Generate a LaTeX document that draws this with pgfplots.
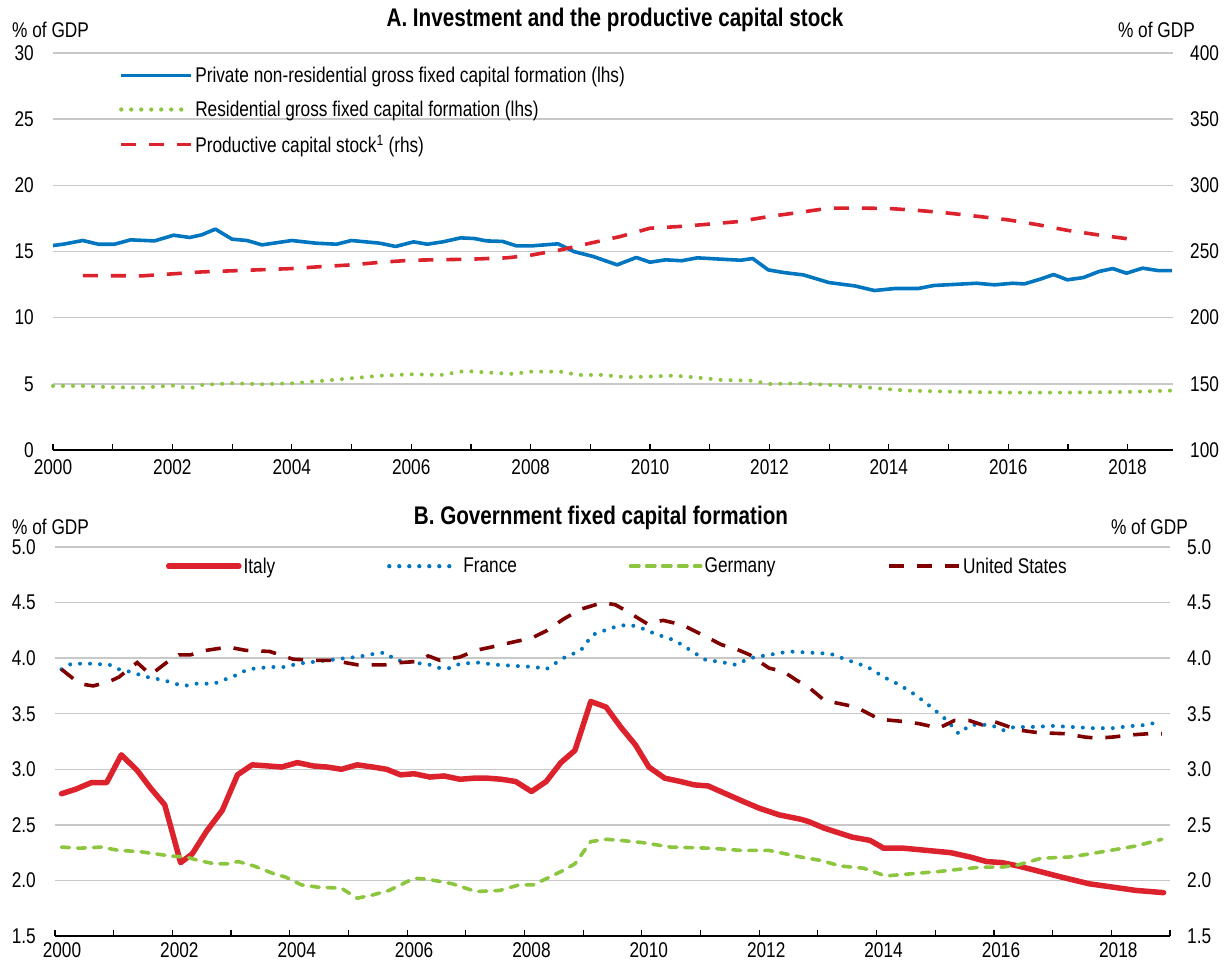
\documentclass[border=0pt]{standalone}
\usepackage{fontspec}
\setmainfont{Liberation Sans}[FakeStretch=0.81]
\usepackage{pgfplots}
\pgfplotsset{compat=1.18}
\definecolor{oblue}{RGB}{0,118,192}
\definecolor{ogreen}{RGB}{140,198,63}
\definecolor{ored}{RGB}{220,35,45}
\definecolor{odred}{RGB}{128,0,0}
\definecolor{ogrid}{RGB}{200,200,200}
\newcommand{\fs}{\fontsize{21.3}{25}\selectfont}
\pgfplotsset{
  common/.style={
    scale only axis, anchor=south west,
    axis x line*=bottom, axis y line*=left,
    y axis line style={draw=none},
    x axis line style={line width=1.4pt, black},
    tick align=inside,
    xtick={2000,2002,...,2018},
    minor xtick={2001,2003,...,2019},
    major tick length=6pt, minor tick length=6pt,
    x tick style={black, line width=1.2pt},
    y tick style={draw=none},
    ymajorgrids, grid style={ogrid, line width=1.5pt},
    tick label style={font=\fs},
    /pgf/number format/assume math mode=true,
    xticklabel style={/pgf/number format/1000 sep={}, inner sep=0pt, yshift=-9pt},
    yticklabel style={inner sep=0pt, xshift=-19pt},
    clip=false,
    legend cell align=left,
    legend style={draw=none, fill=none, font=\fs, inner sep=0pt},
  },
  rightax/.style={
    scale only axis, anchor=south west,
    axis x line=none, axis y line*=right,
    y axis line style={draw=none}, y tick style={draw=none},
    tick label style={font=\fs},
    /pgf/number format/assume math mode=true,
    yticklabel style={inner sep=0pt, xshift=17pt, anchor=west},
  }
}
\begin{document}
\begin{tikzpicture}[x=1pt,y=1pt]
\path[use as bounding box] (0,0) rectangle (1227,962);
% ---------------- Panel A ----------------
\begin{axis}[common,
  at={(53pt,512pt)}, width=1120pt, height=397pt,
  xmin=2000, xmax=2018.76, ymin=0, ymax=30, ytick={0,5,...,30},
  legend style={at={(0.059,0.970)}, anchor=north west, row sep=13pt},
  legend image code/.code={\draw[#1] (0pt,0pt) -- (68pt,0pt); \path (0pt,0pt) -- (70pt,0pt);},
]
\addplot[oblue, line width=3.6pt, line join=round] coordinates {
(2000.0,15.45) (2000.17,15.55) (2000.5,15.83) (2000.76,15.55) (2001.03,15.55)
(2001.3,15.88) (2001.7,15.8) (2002.02,16.23) (2002.29,16.06) (2002.49,16.26)
(2002.72,16.69) (2003.0,15.93) (2003.25,15.83) (2003.5,15.5) (2004.0,15.83)
(2004.4,15.63) (2004.75,15.55) (2005.0,15.83) (2005.47,15.63) (2005.74,15.38)
(2006.04,15.73) (2006.27,15.55) (2006.53,15.73) (2006.83,16.03) (2007.06,15.98)
(2007.26,15.8) (2007.53,15.76) (2007.76,15.43) (2008.03,15.43) (2008.46,15.58)
(2008.72,15.0) (2009.05,14.62) (2009.45,13.99) (2009.77,14.55) (2010.0,14.19)
(2010.26,14.37) (2010.53,14.3) (2010.79,14.52) (2011.19,14.42) (2011.52,14.34)
(2011.72,14.47) (2011.98,13.61) (2012.24,13.41) (2012.57,13.23) (2013.0,12.65)
(2013.43,12.4) (2013.76,12.05) (2014.09,12.2) (2014.49,12.2) (2014.75,12.43)
(2015.47,12.6) (2015.77,12.48) (2016.07,12.6) (2016.27,12.55) (2016.53,12.9)
(2016.76,13.26) (2016.99,12.86) (2017.26,13.03) (2017.52,13.49) (2017.75,13.71)
(2017.98,13.36) (2018.25,13.74) (2018.51,13.56) (2018.74,13.56)};
\addlegendentry{Private non-residential gross fixed capital formation (lhs)}
\addplot[ogreen, line width=4pt, line cap=round, dash pattern=on 0pt off 10pt] coordinates {
(2000,4.84) (2000.5,4.84) (2001,4.74) (2001.5,4.71) (2002,4.87) (2002.3,4.66)
(2002.5,4.92) (2003,5.04) (2003.5,4.97) (2004,5.04) (2004.5,5.22) (2005,5.42)
(2005.5,5.62) (2006,5.72) (2006.5,5.67) (2006.9,5.97) (2007.3,5.85) (2007.7,5.75)
(2008,5.92) (2008.5,5.92) (2008.8,5.67) (2009.2,5.67) (2009.6,5.5) (2010,5.55)
(2010.4,5.62) (2010.8,5.47) (2011.2,5.29) (2011.7,5.24) (2012.0,4.99) (2012.5,5.04)
(2013,4.92) (2013.4,4.84) (2013.8,4.66) (2014.3,4.49) (2015,4.41) (2016,4.34)
(2017,4.34) (2018,4.39) (2018.74,4.49)};
\addlegendentry{Residential gross fixed capital formation (lhs)}
\addlegendimage{ored, line width=3.6pt, dash pattern=on 15pt off 13pt}
\addlegendentry{Productive capital stock\textsuperscript{1} (rhs)}
\end{axis}
\begin{axis}[rightax,
  at={(53pt,512pt)}, width=1120pt, height=397pt,
  xmin=2000, xmax=2018.76, ymin=100, ymax=400, ytick={100,150,...,400},
]
\addplot[ored, line width=3.6pt, dash pattern=on 15pt off 13pt] coordinates {
(2000.5,231.8) (2001.5,231.6) (2002,233.1) (2002.5,234.6) (2003,235.4) (2004,237.1)
(2004.5,238.6) (2005,239.9) (2005.5,241.9) (2006,243.4) (2007,244.2) (2007.6,245.2)
(2008,247.2) (2008.5,251.2) (2009,256.3) (2009.5,261.3) (2010,267.6) (2010.5,268.9)
(2011,270.7) (2011.5,272.7) (2012,276.5) (2012.5,279.5) (2013,282.8) (2013.5,282.8)
(2014,282.5) (2014.5,281) (2015,279) (2015.5,276.5) (2016,273.9) (2016.5,270.2)
(2017,265.9) (2017.5,262.6) (2018,259.6)};
\end{axis}
\node[font=\fontsize{25.5}{30}\selectfont\bfseries] at (615,942) {A. Investment and the productive capital stock};
\node[font=\fs, anchor=west, inner sep=0pt] at (12,932) {\% of GDP};
\node[font=\fs, anchor=east, inner sep=0pt] at (1195,932) {\% of GDP};
% ---------------- Panel B ----------------
\begin{axis}[common,
  at={(55pt,26pt)}, width=1115pt, height=389pt,
  xmin=2000, xmax=2019, ymin=1.5, ymax=5, ytick={1.5,2,...,5},
  yticklabel style={/pgf/number format/.cd, fixed, fixed zerofill, precision=1},
  xticklabel style={xshift=7pt, yshift=2.5pt},
  legend columns=4,
  legend style={at={(0.0995,0.978)}, anchor=north west,
    /tikz/every even column/.append style={column sep=110pt}},
  legend image code/.code={\draw[#1] (0pt,0pt) -- (68pt,0pt); \path (0pt,0pt) -- (70pt,0pt);},
]
\addplot[ored, line width=5.5pt, line join=round, line cap=round] coordinates {
(2000.11,2.78) (2000.35,2.82) (2000.62,2.88) (2000.88,2.88) (2001.13,3.13) (2001.4,2.99)
(2001.63,2.83) (2001.87,2.68) (2002.14,2.16) (2002.34,2.24) (2002.58,2.44) (2002.85,2.63)
(2003.11,2.95) (2003.36,3.04) (2003.63,3.03) (2003.86,3.02) (2004.13,3.06) (2004.4,3.03)
(2004.64,3.02) (2004.88,3.0) (2005.15,3.04) (2005.42,3.02) (2005.65,3.0) (2005.89,2.95)
(2006.12,2.96) (2006.39,2.93) (2006.63,2.94) (2006.9,2.91) (2007.14,2.92) (2007.37,2.92)
(2007.61,2.91) (2007.85,2.89) (2008.12,2.8) (2008.37,2.89) (2008.62,3.06) (2008.86,3.17)
(2009.13,3.61) (2009.39,3.56) (2009.64,3.38) (2009.89,3.22) (2010.12,3.02) (2010.39,2.92)
(2010.66,2.89) (2010.89,2.86) (2011.13,2.85) (2011.43,2.78) (2011.73,2.71) (2012.0,2.65)
(2012.34,2.59) (2012.71,2.55) (2012.84,2.53) (2013.11,2.47) (2013.58,2.39) (2013.89,2.36)
(2014.12,2.29) (2014.46,2.29) (2014.86,2.27) (2015.26,2.25) (2015.6,2.21) (2015.87,2.17)
(2016.14,2.16) (2016.41,2.13) (2016.71,2.09) (2017.15,2.03) (2017.62,1.97) (2018.02,1.94)
(2018.42,1.91) (2018.66,1.9) (2018.89,1.89)};
\addlegendentry{Italy}
\addplot[oblue, line width=4pt, line cap=round, dash pattern=on 0pt off 10pt] coordinates {
(2000.11,3.9) (2000.28,3.95) (2000.62,3.95) (2000.93,3.94) (2001.09,3.9) (2001.26,3.88)
(2001.57,3.83) (2001.87,3.8) (2002.04,3.77) (2002.21,3.75) (2002.38,3.77) (2002.71,3.77)
(2002.85,3.8) (2003.02,3.83) (2003.29,3.9) (2003.66,3.92) (2003.93,3.92) (2004.13,3.95)
(2004.47,3.97) (2004.81,3.99) (2004.94,4.0) (2005.15,4.01) (2005.45,4.04) (2005.62,4.05)
(2005.82,3.98) (2006.12,3.96) (2006.39,3.94) (2006.56,3.91) (2006.73,3.91) (2006.9,3.95)
(2007.2,3.96) (2007.54,3.94) (2007.85,3.93) (2008.18,3.92) (2008.37,3.9) (2008.66,4.0)
(2008.96,4.07) (2009.16,4.21) (2009.37,4.25) (2009.6,4.29) (2009.78,4.3) (2009.95,4.28)
(2010.22,4.22) (2010.56,4.16) (2010.83,4.07) (2011.1,3.98) (2011.3,3.97) (2011.6,3.94)
(2011.84,4.0) (2012.17,4.03) (2012.51,4.06) (2012.84,4.05) (2013.21,4.04) (2013.52,3.98)
(2013.85,3.92) (2014.12,3.83) (2014.39,3.76) (2014.66,3.67) (2014.93,3.56) (2015.2,3.44)
(2015.4,3.32) (2015.6,3.4) (2015.94,3.4) (2016.17,3.35) (2016.34,3.38) (2016.61,3.38)
(2017.01,3.39) (2017.35,3.38) (2017.68,3.37) (2018.02,3.37) (2018.36,3.39) (2018.63,3.4)
(2018.86,3.44)};
\addlegendentry{France}
\addplot[ogreen, line width=3.6pt, line cap=round, dash pattern=on 8pt off 8pt] coordinates {
(2000.11,2.3) (2000.42,2.29) (2000.79,2.3) (2001.09,2.27) (2001.43,2.26) (2001.7,2.24)
(2001.97,2.22) (2002.24,2.21) (2002.44,2.18) (2002.71,2.15) (2002.95,2.15) (2003.12,2.17)
(2003.39,2.13) (2003.73,2.06) (2003.93,2.03) (2004.2,1.96) (2004.47,1.94) (2004.88,1.93)
(2005.15,1.84) (2005.42,1.87) (2005.69,1.91) (2005.89,1.96) (2006.12,2.02) (2006.36,2.01)
(2006.77,1.97) (2007.17,1.9) (2007.58,1.91) (2007.91,1.96) (2008.15,1.96) (2008.39,2.02)
(2008.66,2.09) (2008.86,2.15) (2009.13,2.35) (2009.4,2.37) (2009.64,2.36) (2010.02,2.34)
(2010.49,2.3) (2011.16,2.29) (2011.7,2.27) (2012.17,2.27) (2012.71,2.21) (2013.05,2.18)
(2013.38,2.13) (2013.78,2.11) (2014.15,2.04) (2014.59,2.06) (2015.06,2.08) (2015.4,2.1)
(2015.8,2.12) (2016.14,2.12) (2016.41,2.14) (2016.81,2.2) (2017.28,2.21) (2017.65,2.24)
(2018.09,2.28) (2018.42,2.31) (2018.86,2.37)};
\addlegendentry{Germany}
\addplot[odred, line width=3.6pt, dash pattern=on 15pt off 13pt] coordinates {
(2000.11,3.9) (2000.42,3.77) (2000.65,3.75) (2000.93,3.79) (2001.09,3.83) (2001.4,3.96)
(2001.63,3.85) (2001.9,3.96) (2002.11,4.03) (2002.31,4.03) (2002.58,4.07) (2002.95,4.1)
(2003.25,4.07) (2003.66,4.06) (2004.06,3.99) (2004.47,3.98) (2004.74,3.98) (2005.15,3.94)
(2005.62,3.94) (2005.89,3.96) (2006.16,3.97) (2006.36,4.02) (2006.56,3.98) (2006.9,4.01)
(2007.17,4.07) (2007.44,4.1) (2007.85,4.15) (2008.12,4.18) (2008.39,4.25) (2008.66,4.35)
(2008.96,4.44) (2009.33,4.5) (2009.55,4.48) (2009.75,4.42) (2010.09,4.31) (2010.36,4.34)
(2010.69,4.3) (2011.03,4.21) (2011.36,4.12) (2011.57,4.09) (2011.84,4.03) (2012.0,3.97)
(2012.17,3.91) (2012.41,3.88) (2012.64,3.8) (2012.84,3.74) (2013.11,3.62) (2013.38,3.59)
(2013.65,3.56) (2014.05,3.45) (2014.46,3.43) (2014.73,3.41) (2015.06,3.37) (2015.33,3.44)
(2015.57,3.44) (2015.8,3.4) (2016.0,3.43) (2016.27,3.38) (2016.47,3.35) (2016.74,3.33)
(2017.21,3.32) (2017.55,3.29) (2017.75,3.28) (2018.02,3.29) (2018.36,3.31) (2018.63,3.32)
(2018.86,3.32)};
\addlegendentry{United States}
\end{axis}
\begin{axis}[rightax,
  at={(55pt,26pt)}, width=1115pt, height=389pt,
  xmin=2000, xmax=2019, ymin=1.5, ymax=5, ytick={1.5,2,...,5},
  yticklabel style={/pgf/number format/.cd, fixed, fixed zerofill, precision=1},
]
\end{axis}
\node[font=\fontsize{25.5}{30}\selectfont\bfseries] at (601,444) {B. Government fixed capital formation};
\node[font=\fs, anchor=west, inner sep=0pt] at (12,435) {\% of GDP};
\node[font=\fs, anchor=east, inner sep=0pt] at (1188,435) {\% of GDP};
\end{tikzpicture}
\end{document}
